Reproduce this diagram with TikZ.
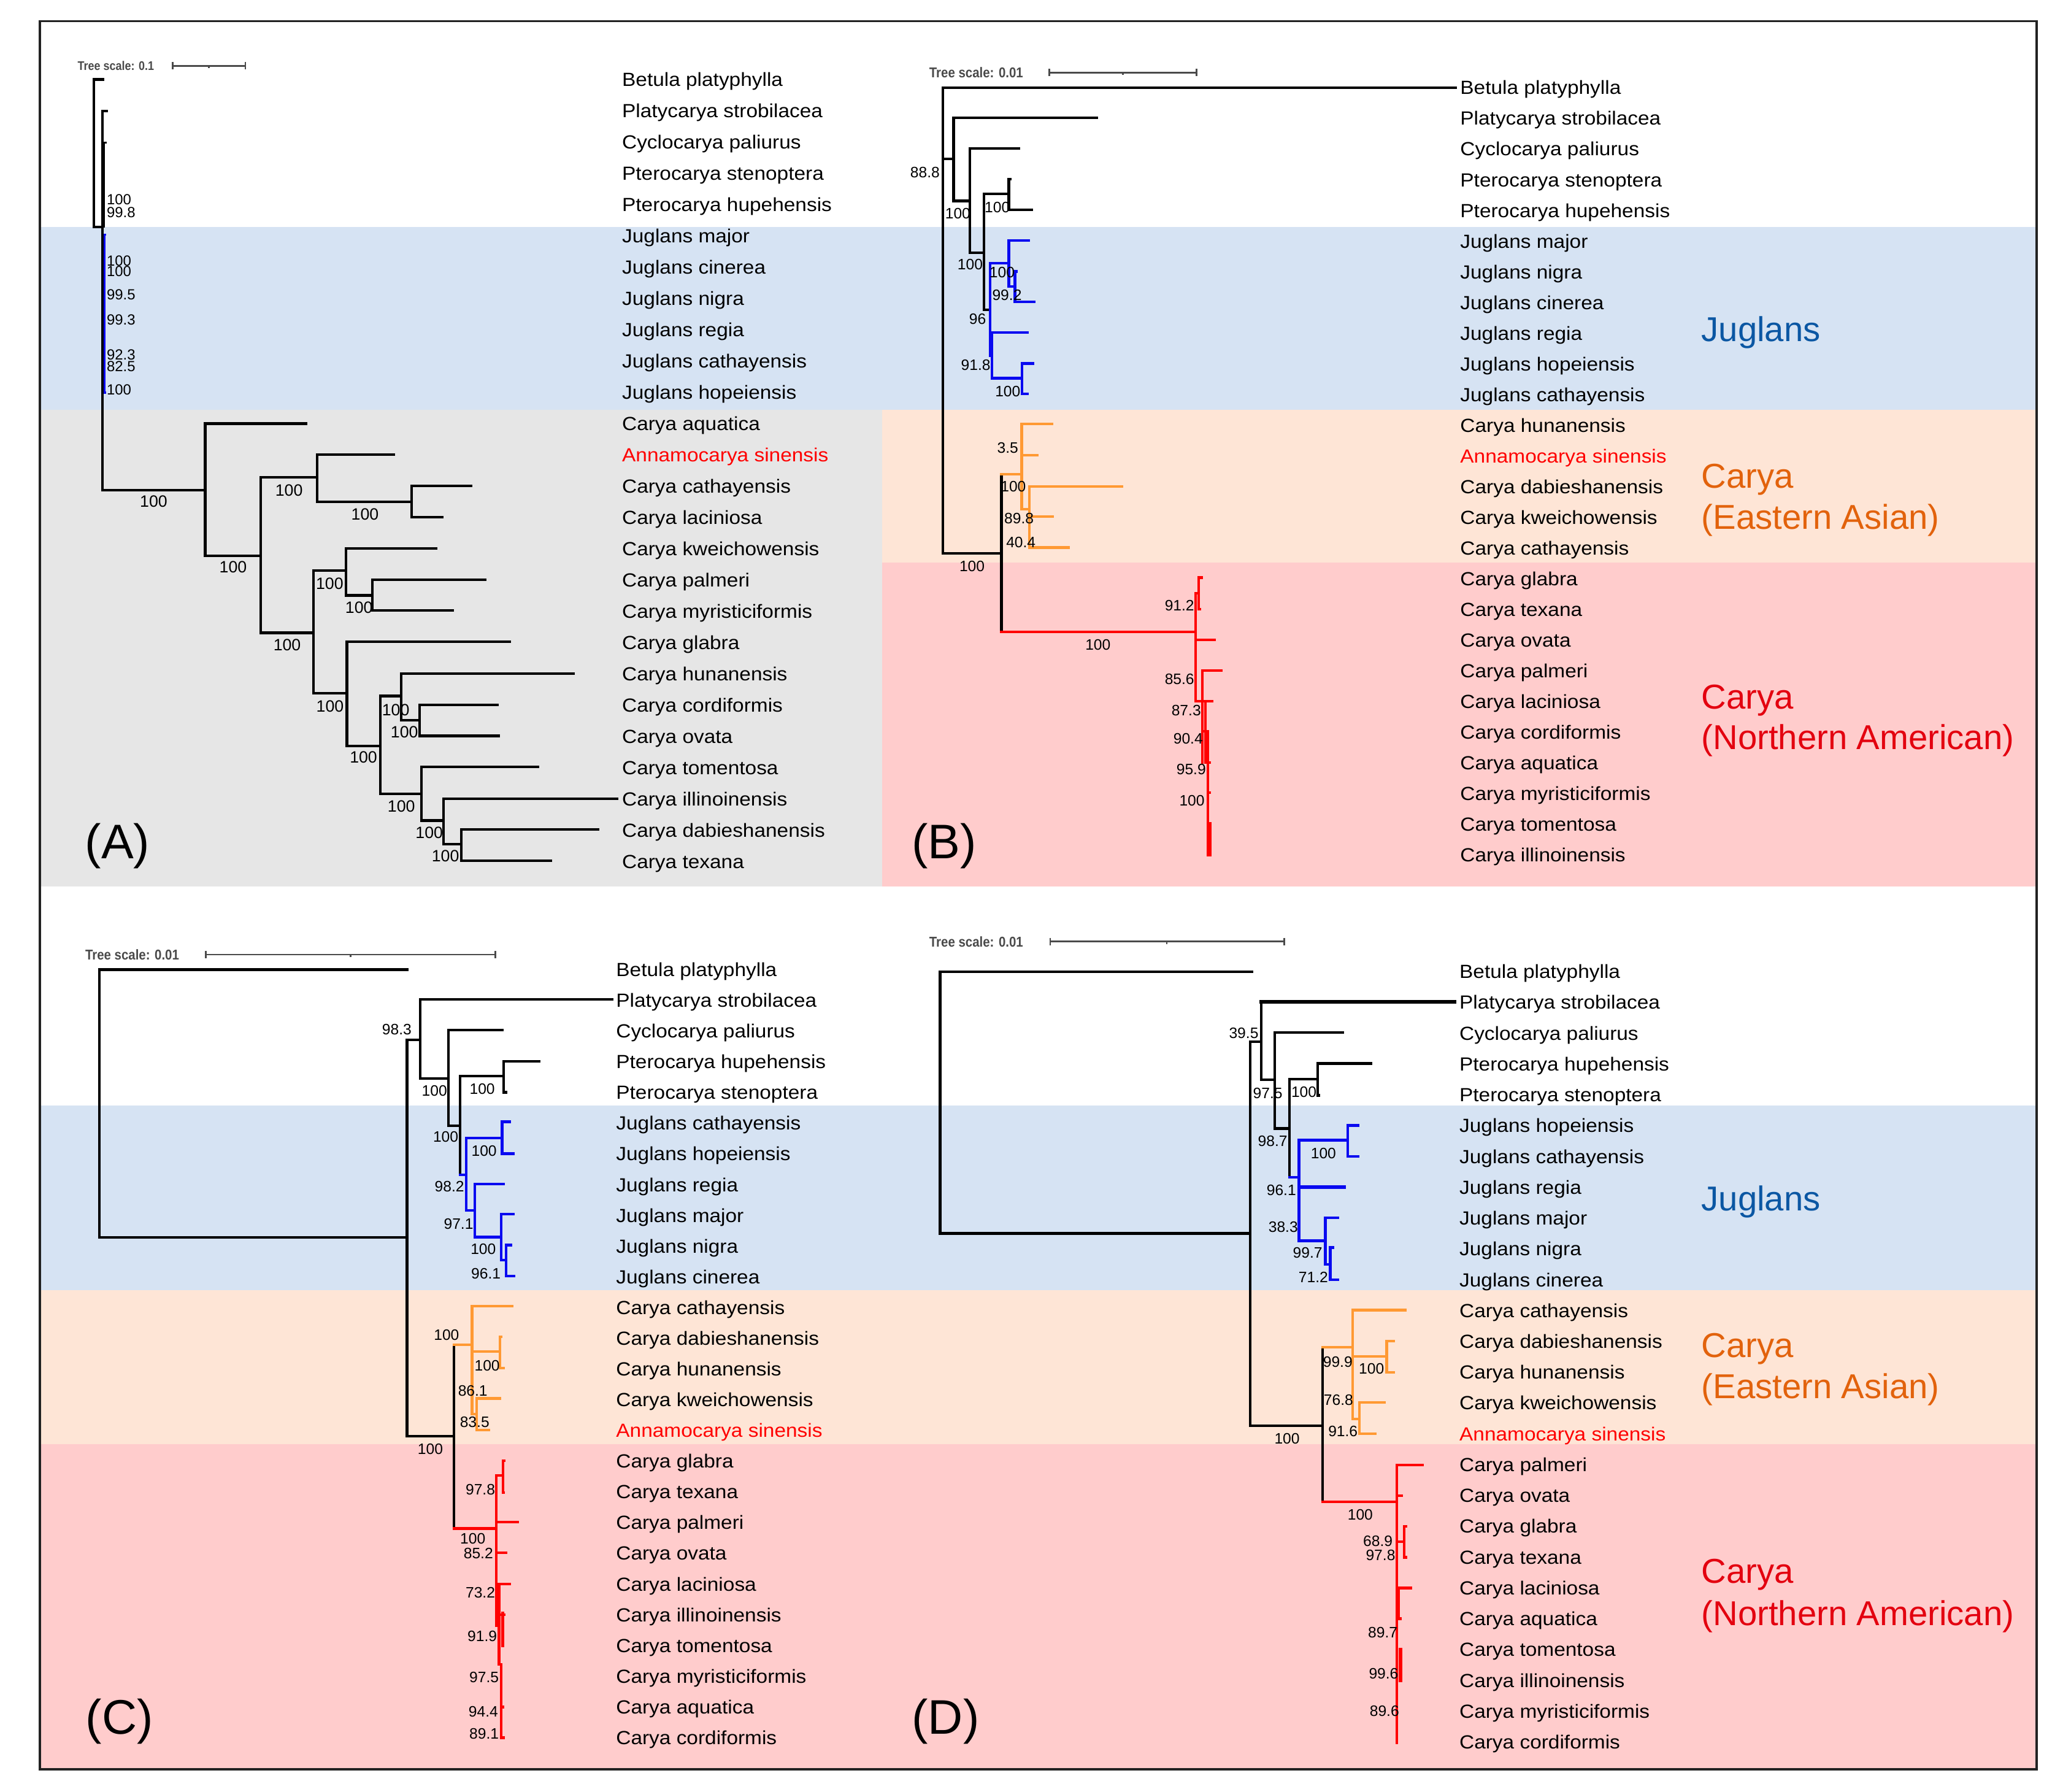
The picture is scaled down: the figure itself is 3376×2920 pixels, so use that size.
\documentclass[tikz,border=0pt]{standalone}
\usepackage{fontspec}
\setmainfont{Liberation Sans}
\newfontfamily\leaffont[FakeStretch=1.08]{Liberation Sans}
\newfontfamily\scalefnt[FakeStretch=0.88]{Liberation Sans}
\definecolor{bandblue}{HTML}{D6E3F3}
\definecolor{bandgrey}{HTML}{E6E6E6}
\definecolor{bandpeach}{HTML}{FEE5D6}
\definecolor{bandpink}{HTML}{FFCCCC}
\definecolor{treeblue}{HTML}{0A0AF0}
\definecolor{treeorange}{HTML}{FF9933}
\definecolor{treered}{HTML}{FF0000}
\definecolor{annared}{HTML}{FF0000}
\definecolor{jugtext}{HTML}{0B57A3}
\definecolor{eatext}{HTML}{E2620C}
\definecolor{natext}{HTML}{E3000F}
\definecolor{scalegrey}{HTML}{4A4A4A}
\definecolor{framecol}{HTML}{222222}
\tikzset{
  leaf/.style={anchor=base west, inner sep=0pt, font=\leaffont\fontsize{8.8}{10}\selectfont, yshift=-3.15pt},
  supl/.style={anchor=center, inner sep=0pt, font=\fontsize{7}{8}\selectfont},
  supA/.style={anchor=center, inner sep=0pt, font=\fontsize{7.6}{8}\selectfont},
  tinyl/.style={anchor=west, inner sep=0pt, font=\fontsize{6.8}{7}\selectfont},
  brk/.style={line width=1.2pt, line cap=rect, line join=miter, draw=black},
  brb/.style={brk, draw=treeblue},
  bro/.style={brk, draw=treeorange},
  brr/.style={brk, draw=treered},
  sbar/.style={draw=scalegrey, line width=0.8pt},
  sctext/.style={anchor=west, inner sep=0pt, text=scalegrey, font=\scalefnt\bfseries\fontsize{6.6}{7}\selectfont},
  sctextA/.style={sctext, font=\scalefnt\bfseries\fontsize{5.8}{6}\selectfont},
  panel/.style={anchor=base, inner sep=0pt, font=\fontsize{22.5}{24}\selectfont},
  clade/.style={anchor=base west, inner sep=0pt, font=\fontsize{16}{18}\selectfont},
}
\newcounter{bsvc}
\newcommand{\bsv}[4][supl]{\stepcounter{bsvc}\node[#1] (s\arabic{bsvc}) at (#2,#3) {#4};}
\begin{document}
\begin{tikzpicture}[x=0.01cm, y=-0.01cm]
\useasboundingbox (0,0) rectangle (3376,2920);
\fill[white] (0,0) rectangle (3376,2920);
% background bands (original pixel units)
\fill[bandblue] (65,370) rectangle (3320,668);
\fill[bandgrey] (65,668) rectangle (1438,1445);
\fill[bandpeach] (1438,668) rectangle (3320,917);
\fill[bandpink] (1438,917) rectangle (3320,1445);
\fill[bandblue] (65,1802) rectangle (3320,2103);
\fill[bandpeach] (65,2103) rectangle (3320,2354);
\fill[bandpink] (65,2354) rectangle (3320,2884);
\draw[framecol, line width=0.9pt] (65,34.5) rectangle (3320,2884);
% clade labels
\node[clade, text=jugtext] (cj1) at (2773,556) {Juglans};
\node[clade, text=eatext] (ce1) at (2773,795) {Carya};
\node[clade, text=eatext] (ce2) at (2773,862) {(Eastern Asian)};
\node[clade, text=natext] (cn1) at (2773,1155) {Carya};
\node[clade, text=natext] (cn2) at (2773,1221) {(Northern American)};
\node[clade, text=jugtext] (cj2) at (2773,1973) {Juglans};
\node[clade, text=eatext] (ce3) at (2773,2212) {Carya};
\node[clade, text=eatext] (ce4) at (2773,2279) {(Eastern Asian)};
\node[clade, text=natext] (cn3) at (2773,2580) {Carya};
\node[clade, text=natext] (cn4) at (2773,2649) {(Northern American)};

\begin{scope}[x=0.02164cm, y=-0.02164cm]
% ================= PANEL A =================
\node[sctextA] (scA) at (58.2,49.5) {Tree scale: 0.1};
\draw[sbar] (130.2,49.5) -- (184.8,49.5);
\draw[sbar] (130.2,46.8) -- (130.2,52.2);
\draw[sbar] (184.8,46.8) -- (184.8,52.2);
\draw[sbar] (157.3,49.5) -- (157.3,51.3);
\foreach \n [count=\i from 0] in {Betula platyphylla, Platycarya strobilacea, Cyclocarya paliurus, Pterocarya stenoptera, Pterocarya hupehensis, Juglans major, Juglans cinerea, Juglans nigra, Juglans regia, Juglans cathayensis, Juglans hopeiensis, Carya aquatica, {\color{annared}Annamocarya sinensis}, Carya cathayensis, Carya laciniosa, Carya kweichowensis, Carya palmeri, Carya myristiciformis, Carya glabra, Carya hunanensis, Carya cordiformis, Carya ovata, Carya tomentosa, Carya illinoinensis, Carya dabieshanensis, Carya texana}
  \node[leaf] (A\i) at (468.1,{59.8+23.55*\i}) {\n};
\draw[brk] (77.5,59.8) -- (70.7,59.8) -- (70.7,171.0) -- (77,171.0);
\draw[brk] (80.5,83.7) -- (77,83.7) -- (77,368.9) -- (154.5,368.9);
\draw[brk, line width=0.7pt] (79.6,107.4) -- (78.6,107.4) -- (78.6,171);
\draw[brb, line width=0.9pt] (79.3,176.7) -- (78.8,176.7) -- (78.8,295.6) -- (79.3,295.6);
\draw[brk] (230.6,318.9) -- (154.5,318.9) -- (154.5,418.4) -- (196.4,418.4);
\draw[brk] (238.8,359.4) -- (196.4,359.4) -- (196.4,476.4) -- (236.0,476.4);
\draw[brk] (296.6,342.4) -- (238.8,342.4) -- (238.8,377.8) -- (309.9,377.8);
\draw[brk] (354.6,365.8) -- (309.9,365.8) -- (309.9,389.4) -- (332.8,389.4);
\draw[brk] (260.4,429.7) -- (236.0,429.7) -- (236.0,522.1) -- (261.2,522.1);
\draw[brk] (328.3,412.9) -- (260.4,412.9) -- (260.4,448.3) -- (280.5,448.3);
\draw[brk] (365.4,436.5) -- (280.5,436.5) -- (280.5,459.6) -- (341.0,459.6);
\draw[brk] (384.0,483.2) -- (261.2,483.2) -- (261.2,561.5) -- (286.4,561.5);
\draw[brk] (302.2,524.0) -- (286.4,524.0) -- (286.4,597.8) -- (317.5,597.8);
\draw[brk] (431.6,507.3) -- (302.2,507.3) -- (302.2,542.2) -- (315.8,542.2);
\draw[brk] (374.4,530.6) -- (315.8,530.6) -- (315.8,554.0) -- (375.5,554.0);
\draw[brk] (405.0,577.3) -- (317.5,577.3) -- (317.5,617.8) -- (334.0,617.8);
\draw[brk] (464.4,601.4) -- (334.0,601.4) -- (334.0,635.5) -- (347.5,635.5);
\draw[brk] (450.3,624.5) -- (347.5,624.5) -- (347.5,648.0) -- (414.9,648.0);
\bsv[tinyl]{80.1}{150.3}{100}
\bsv[tinyl]{80.1}{159.8}{99.8}
\bsv[tinyl]{80.1}{196.2}{100}
\bsv[tinyl]{80.1}{204.1}{100}
\bsv[tinyl]{80.1}{222.0}{99.5}
\bsv[tinyl]{80.1}{240.9}{99.3}
\bsv[tinyl]{80.1}{267.3}{92.3}
\bsv[tinyl]{80.1}{275.7}{82.5}
\bsv[tinyl]{80.1}{293.3}{100}
\bsv[supA]{115.7}{377.5}{100}
\bsv[supA]{175.5}{427.1}{100}
\bsv[supA]{217.6}{369.1}{100}
\bsv[supA]{274.8}{387.2}{100}
\bsv[supA]{216.2}{485.8}{100}
\bsv[supA]{248.2}{439.6}{100}
\bsv[supA]{270.3}{457.3}{100}
\bsv[supA]{248.5}{531.6}{100}
\bsv[supA]{273.7}{570.0}{100}
\bsv[supA]{298.0}{534.4}{100}
\bsv[supA]{304.5}{551.1}{100}
\bsv[supA]{302.2}{607.0}{100}
\bsv[supA]{323.2}{627.1}{100}
\bsv[supA]{335.4}{644.3}{100}
\node[panel] (pA) at (88.5,646.5) {(A)};

% ================= PANEL B =================
\node[sctext] (scB) at (699.4,54.7) {Tree scale: 0.01};
\draw[sbar] (789.9,54.7) -- (901.1,54.7);
\draw[sbar] (789.9,51.9) -- (789.9,57.5);
\draw[sbar] (901.1,51.9) -- (901.1,57.5);
\draw[sbar] (845.4,54.7) -- (845.4,56.5);
\foreach \n [count=\i from 0] in {Betula platyphylla, Platycarya strobilacea, Cyclocarya paliurus, Pterocarya stenoptera, Pterocarya hupehensis, Juglans major, Juglans nigra, Juglans cinerea, Juglans regia, Juglans hopeiensis, Juglans cathayensis, Carya hunanensis, {\color{annared}Annamocarya sinensis}, Carya dabieshanensis, Carya kweichowensis, Carya cathayensis, Carya glabra, Carya texana, Carya ovata, Carya palmeri, Carya laciniosa, Carya cordiformis, Carya aquatica, Carya myristiciformis, Carya tomentosa, Carya illinoinensis}
  \node[leaf] (B\i) at (1099.2,{66.0+23.1*\i}) {\n};
\draw[brk] (1096.1,66.0) -- (709.8,66.0) -- (709.8,416.7) -- (754.0,416.7);
\draw[brk] (709.8,119.6) -- (718.0,119.6);
\draw[brk] (825.6,88.5) -- (718.0,88.5) -- (718.0,151.3) -- (730.2,151.3);
\draw[brk] (767.0,111.8) -- (730.2,111.8) -- (730.2,190.3) -- (740.9,190.3);
\draw[brk] (759.6,146.0) -- (740.9,146.0) -- (740.9,233.3) -- (745.5,233.3);
\draw[brk] (760.6,134.7) -- (759.6,134.7) -- (759.6,157.9) -- (776.9,157.9);
\draw[brb] (759.6,198.0) -- (745.5,198.0) -- (745.5,268.0) -- (746.9,268.0);
\draw[brb] (773.5,250.3) -- (746.9,250.3) -- (746.9,284.8) -- (769.5,284.8);
\draw[brb] (774.4,181.0) -- (759.6,181.0) -- (759.6,215.8) -- (764.2,215.8);
\draw[brb] (765.3,204.4) -- (764.2,204.4) -- (764.2,227.1) -- (778.6,227.1);
\draw[brb] (777.7,273.7) -- (769.5,273.7) -- (769.5,296.5) -- (773.5,296.5);
\draw[brk] (754.0,357.1) -- (754.0,475.7);
\draw[bro] (754.0,357.1) -- (769.3,357.1);
\draw[bro] (792.2,319.3) -- (769.3,319.3) -- (769.3,383.5) -- (774.9,383.5);
\draw[bro] (769.3,342.9) -- (780.9,342.9);
\draw[bro] (844.8,366.3) -- (774.9,366.3) -- (774.9,412.2) -- (804.6,412.2);
\draw[bro] (774.9,388.9) -- (792.7,388.9);
\draw[brr] (754.0,475.7) -- (900.3,475.7);
\draw[brr] (900.3,446.7) -- (900.3,528.0);
\draw[brr] (900.3,446.7) -- (902.6,446.7);
\draw[brr] (904.9,434.9) -- (902.6,434.9) -- (902.6,458.5) -- (903.6,458.5);
\draw[brr] (900.3,481.6) -- (914.4,481.6);
\draw[brr] (919.5,504.9) -- (905.4,504.9) -- (905.4,574.0);
\draw[brr] (900.3,528.0) -- (912.5,528.0);
\draw[brr] (907.5,528.0) -- (907.5,574.0);
\draw[brr] (905.4,550.4) -- (909.5,550.4) -- (909.5,643.6) -- (910.8,643.6);
\draw[brr] (909.5,574.0) -- (910.6,574.0);
\draw[brr] (909.5,596.9) -- (910.6,596.9);
\draw[brr, line width=1.5pt] (911.0,620.0) -- (911.0,643.6);
\bsv{696.5}{129.6}{88.8}
\bsv{721.2}{160.7}{100}
\bsv{730.5}{199.0}{100}
\bsv{750.9}{156.0}{100}
\bsv{754.5}{205.0}{100}
\bsv{758.2}{222.0}{99.2}
\bsv{736.1}{240.3}{96}
\bsv{734.7}{274.8}{91.8}
\bsv{758.8}{294.6}{100}
\bsv{758.8}{337.0}{3.5}
\bsv{763.0}{366.5}{100}
\bsv{767.3}{390.1}{89.8}
\bsv{768.7}{408.5}{40.4}
\bsv{731.9}{426.2}{100}
\bsv{826.7}{485.6}{100}
\bsv{888.1}{456.1}{91.2}
\bsv{888.1}{511.5}{85.6}
\bsv{893.2}{535.1}{87.3}
\bsv{894.6}{556.3}{90.4}
\bsv{896.9}{579.4}{95.9}
\bsv{897.5}{602.8}{100}
\node[panel] (pB) at (711,646.5) {(B)};

% ================= PANEL C =================
\node[sctext] (scC) at (63.9,718.7) {Tree scale: 0.01};
\draw[sbar] (155.1,718.7) -- (373.0,718.7);
\draw[sbar] (155.1,715.9) -- (155.1,721.5);
\draw[sbar] (373.0,715.9) -- (373.0,721.5);
\draw[sbar] (264.0,718.7) -- (264.0,720.5);
\foreach \n [count=\i from 0] in {Betula platyphylla, Platycarya strobilacea, Cyclocarya paliurus, Pterocarya hupehensis, Pterocarya stenoptera, Juglans cathayensis, Juglans hopeiensis, Juglans regia, Juglans major, Juglans nigra, Juglans cinerea, Carya cathayensis, Carya dabieshanensis, Carya hunanensis, Carya kweichowensis, {\color{annared}Annamocarya sinensis}, Carya glabra, Carya texana, Carya palmeri, Carya ovata, Carya laciniosa, Carya illinoinensis, Carya tomentosa, Carya myristiciformis, Carya aquatica, Carya cordiformis}
  \node[leaf] (C\i) at (463.6,{730.0+23.13*\i}) {\n};
\draw[brk] (306.5,730.0) -- (75.0,730.0) -- (75.0,931.8) -- (306.5,931.8);
\draw[brk] (306.5,782.8) -- (306.5,1081.2) -- (341.9,1081.2);
\draw[brk] (306.5,782.8) -- (316.4,782.8);
\draw[brk] (460.7,752.6) -- (316.4,752.6) -- (316.4,812.0) -- (337.6,812.0);
\draw[brk] (378.1,775.6) -- (337.6,775.6) -- (337.6,847.5) -- (346.6,847.5);
\draw[brk] (379.2,810.1) -- (346.6,810.1) -- (346.6,884.6);
\draw[brk] (406.1,799.2) -- (379.2,799.2) -- (379.2,822.4) -- (381.0,822.4);
\draw[brb] (346.6,884.6) -- (351.2,884.6);
\draw[brb] (378.1,856.9) -- (351.2,856.9) -- (351.2,911.4) -- (357.4,911.4);
\draw[brb] (383.7,844.6) -- (378.1,844.6) -- (378.1,868.6) -- (386.6,868.6);
\draw[brb] (379.2,891.6) -- (357.4,891.6) -- (357.4,931.4) -- (377.2,931.4);
\draw[brb] (386.6,914.2) -- (377.2,914.2) -- (377.2,948.8) -- (380.9,948.8);
\draw[brb] (384.9,937.4) -- (380.9,937.4) -- (380.9,960.6) -- (387.1,960.6);
\draw[brk] (341.9,1012.4) -- (341.9,1150.8);
\draw[bro] (341.9,1012.4) -- (355.4,1012.4);
\draw[bro] (385.7,983.4) -- (355.4,983.4) -- (355.4,1064.7) -- (359.0,1064.7);
\draw[bro] (355.4,1017.6) -- (376.4,1017.6);
\draw[bro] (377.2,1006.5) -- (376.4,1006.5) -- (376.4,1030.1) -- (379.2,1030.1);
\draw[bro] (376.4,1052.9) -- (359.0,1052.9) -- (359.0,1076.5) -- (368.2,1076.5);
\draw[brr] (341.9,1150.8) -- (373.6,1150.8);
\draw[brr] (373.6,1110.7) -- (373.6,1223.9);
\draw[brr] (373.6,1110.7) -- (378.6,1110.7);
\draw[brr] (379.5,1099.6) -- (378.6,1099.6) -- (378.6,1123.7) -- (379.2,1123.7);
\draw[brr] (373.6,1145.8) -- (390.0,1145.8);
\draw[brr] (373.6,1169.2) -- (380.9,1169.2);
\draw[brr] (373.6,1192.5) -- (383.7,1192.5);
\draw[brr] (375.8,1192.5) -- (375.8,1253.0);
\draw[brr] (375.8,1215.6) -- (379.5,1215.6);
\draw[brr, line width=1.5pt] (378.6,1214.5) -- (378.6,1239.2);
\draw[brr] (377.5,1253.0) -- (377.5,1308.3) -- (379.0,1308.3);
\draw[brr] (377.5,1285.2) -- (378.6,1285.2);
\bsv{298.8}{775.2}{98.3}
\bsv{327.1}{821.4}{100}
\bsv{335.6}{855.8}{100}
\bsv{363.1}{819.9}{100}
\bsv{338.4}{893.1}{98.2}
\bsv{364.5}{866.3}{100}
\bsv{345.3}{921.4}{97.1}
\bsv{363.9}{940.6}{100}
\bsv{365.9}{959.1}{96.1}
\bsv{336.2}{1005.3}{100}
\bsv{324.0}{1091.1}{100}
\bsv{366.8}{1028.2}{100}
\bsv{356.0}{1047.0}{86.1}
\bsv{357.4}{1070.6}{83.5}
\bsv{356.0}{1158.3}{100}
\bsv{360.2}{1169.6}{85.2}
\bsv{361.7}{1121.3}{97.8}
\bsv{361.7}{1199.1}{73.2}
\bsv{363.1}{1232.1}{91.9}
\bsv{364.5}{1262.8}{97.5}
\bsv{363.9}{1288.7}{94.4}
\bsv{364.5}{1305.2}{89.1}
\node[panel] (pC) at (90,1305.4) {(C)};

% ================= PANEL D =================
\node[sctext] (scD) at (699.4,708.9) {Tree scale: 0.01};
\draw[sbar] (790.8,708.9) -- (966.8,708.9);
\draw[sbar] (790.8,706.1) -- (790.8,711.7);
\draw[sbar] (966.8,706.1) -- (966.8,711.7);
\draw[sbar] (878.5,708.9) -- (878.5,710.7);
\foreach \n [count=\i from 0] in {Betula platyphylla, Platycarya strobilacea, Cyclocarya paliurus, Pterocarya hupehensis, Pterocarya stenoptera, Juglans hopeiensis, Juglans cathayensis, Juglans regia, Juglans major, Juglans nigra, Juglans cinerea, Carya cathayensis, Carya dabieshanensis, Carya hunanensis, Carya kweichowensis, {\color{annared}Annamocarya sinensis}, Carya palmeri, Carya ovata, Carya glabra, Carya texana, Carya laciniosa, Carya aquatica, Carya tomentosa, Carya illinoinensis, Carya myristiciformis, Carya cordiformis}
  \node[leaf] (D\i) at (1098.6,{731.5+23.2*\i}) {\n};
\draw[brk] (942.7,731.5) -- (707.9,731.5) -- (707.9,928.6) -- (941.3,928.6);
\draw[brk] (941.3,784.3) -- (941.3,1073.4) -- (996.0,1073.4);
\draw[brk] (941.3,784.3) -- (949.8,784.3);
\draw[brk, line width=1.7pt] (1095.0,754.1) -- (949.8,754.1);
\draw[brk] (949.8,754.1) -- (949.8,813.1) -- (959.7,813.1);
\draw[brk] (1011.2,777.3) -- (959.7,777.3) -- (959.7,849.7) -- (971.0,849.7);
\draw[brk] (992.3,812.6) -- (971.0,812.6) -- (971.0,886.5);
\draw[brk] (1032.4,800.7) -- (992.3,800.7) -- (992.3,824.7) -- (993.2,824.7);
\draw[brb] (971.0,886.5) -- (978.1,886.5);
\draw[brb] (1014.9,858.4) -- (978.1,858.4) -- (978.1,934.2) -- (997.9,934.2);
\draw[brb, line width=1.7pt] (978.1,893.7) -- (1012.1,893.7);
\draw[brb] (1022.5,847.3) -- (1014.9,847.3) -- (1014.9,870.5) -- (1022.5,870.5);
\draw[brb] (1007.3,916.7) -- (997.9,916.7) -- (997.9,952.0) -- (1001.6,952.0);
\draw[brb] (1003.6,939.3) -- (1001.6,939.3) -- (1001.6,963.5) -- (1007.3,963.5);
\draw[brk] (996.0,1014.5) -- (996.0,1130.7);
\draw[bro] (996.0,1014.5) -- (1018.6,1014.5);
\draw[bro] (1058.2,986.4) -- (1018.6,986.4) -- (1018.6,1068.3) -- (1023.4,1068.3);
\draw[bro] (1018.6,1021.1) -- (1044.1,1021.1);
\draw[bro] (1049.4,1009.8) -- (1044.1,1009.8) -- (1044.1,1033.4) -- (1049.4,1033.4);
\draw[bro] (1042.6,1055.8) -- (1023.4,1055.8) -- (1023.4,1079.3) -- (1035.3,1079.3);
\draw[brr] (996.0,1130.7) -- (1051.7,1130.7);
\draw[brr] (1071.0,1102.9) -- (1051.7,1102.9) -- (1051.7,1312.3);
\draw[brr] (1051.7,1126.0) -- (1055.5,1126.0);
\draw[brr] (1051.7,1160.8) -- (1057.4,1160.8);
\draw[brr] (1058.6,1149.1) -- (1057.4,1149.1) -- (1057.4,1172.5) -- (1058.6,1172.5);
\draw[brr] (1062.4,1195.6) -- (1053.1,1195.6) -- (1053.1,1218.7) -- (1054.5,1218.7);
\draw[brr, line width=1.6pt] (1054.6,1242.0) -- (1054.6,1265.2);
\bsv{936.5}{777.7}{39.5}
\bsv{954.6}{822.9}{97.5}
\bsv{958.3}{859.2}{98.7}
\bsv{981.8}{822.4}{100}
\bsv{964.8}{896.0}{96.1}
\bsv{996.5}{868.6}{100}
\bsv{966.2}{923.7}{38.3}
\bsv{984.6}{943.1}{99.7}
\bsv{988.9}{961.4}{71.2}
\bsv{1007.3}{1025.3}{99.9}
\bsv{969.1}{1083.1}{100}
\bsv{1032.7}{1030.5}{100}
\bsv{1007.8}{1054.1}{76.8}
\bsv{1011.2}{1077.7}{91.6}
\bsv{1024.2}{1140.6}{100}
\bsv{1037.5}{1160.4}{68.9}
\bsv{1039.5}{1170.8}{97.8}
\bsv{1041.2}{1229.3}{89.7}
\bsv{1041.8}{1260.0}{99.6}
\bsv{1042.4}{1288.3}{89.6}
\node[panel] (pD) at (712,1305.4) {(D)};
\end{scope}
\end{tikzpicture}
\end{document}
